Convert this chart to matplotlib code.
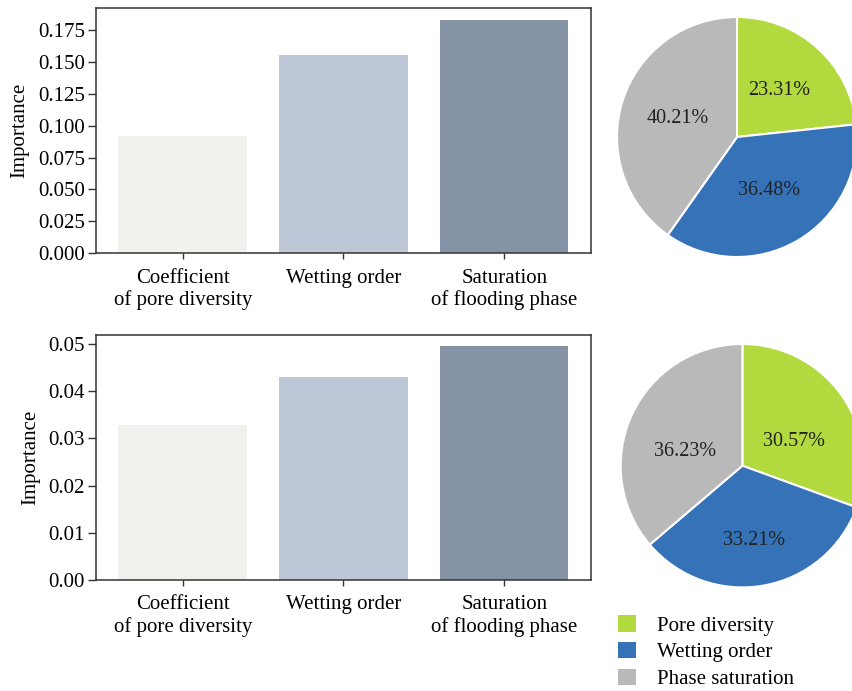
import matplotlib
matplotlib.use("Agg")
import matplotlib.pyplot as plt
from matplotlib.patches import Patch

plt.rcParams['font.family'] = ['Liberation Serif', 'DejaVu Serif']
plt.rcParams['font.size'] = 15

# feature importance
features = ["Coefficient\nof pore diversity", "Wetting order", "Saturation\nof flooding phase"]
imp_top = [0.0919, 0.1555, 0.1829]
imp_bottom = [0.0328, 0.0430, 0.0496]

# share of importance (%)
pie_names = ["Pore diversity", "Wetting order", "Phase saturation"]
share_top = [23.31, 36.48, 40.21]
share_bottom = [30.57, 33.21, 36.23]

bar_colors = ["#f0f1ec", "#bec7d7", "#8692a5"]
pie_colors = ["#b2d93e", "#3572b8", "#b9b9b9"]

W, H = 853, 691
fig = plt.figure(figsize=(W / 100, H / 100), dpi=100)


def px_axes(x0, y0, x1, y1):
    return fig.add_axes([x0 / W, 1 - y1 / H, (x1 - x0) / W, (y1 - y0) / H])


def bar_panel(ax, vals, ymax, yticks, fmt):
    x = range(len(vals))
    ax.bar(x, vals, width=0.8, color=bar_colors, zorder=2)
    ax.set_xlim(-0.54, 2.54)
    ax.set_ylim(0, ymax)
    ax.set_yticks(yticks)
    ax.set_yticklabels([fmt.format(t) for t in yticks])
    ax.set_xticks(list(x))
    ax.set_xticklabels(features, linespacing=1.2)
    ax.set_ylabel("Importance", labelpad=6)
    for s in ax.spines.values():
        s.set_color("#333333")
        s.set_linewidth(1.1)
    ax.tick_params(axis="y", length=6, width=1, color="#333333", pad=2)
    ax.tick_params(axis="x", length=4, width=1, color="#333333", pad=7)


ax1 = px_axes(96, 8.3, 591, 253.3)
bar_panel(ax1, imp_top, 0.192, [0.025 * i for i in range(8)], "{:.3f}")

ax2 = px_axes(96, 335, 591, 580)
bar_panel(ax2, imp_bottom, 0.0519, [0.01 * i for i in range(6)], "{:.2f}")


def pie_panel(cx, cy, r, vals, dy=0.0):
    ax = px_axes(cx - r, cy - r, cx + r, cy + r)
    _, _, pcts = ax.pie(vals, colors=pie_colors, startangle=90, counterclock=False,
                        autopct="%.2f%%", pctdistance=0.52,
                        wedgeprops=dict(edgecolor="white", linewidth=1.5),
                        textprops=dict(fontsize=14.5, color="#222222"))
    # nudge percentage labels
    for t in pcts:
        x, y = t.get_position()
        t.set_position((x, y + dy))
    ax.set_xlim(-1, 1)
    ax.set_ylim(-1, 1)
    ax.set_aspect("equal")
    ax.axis("off")


pie_panel(737, 137, 120, share_top)
pie_panel(742.4, 465.7, 121.7, share_bottom, dy=-0.1)

handles = [Patch(facecolor=c, edgecolor="none") for c in pie_colors]
fig.legend(handles, pie_names, loc="upper left", bbox_to_anchor=(618 / W, 1 - 615 / H),
           frameon=False, handlelength=0.85, handleheight=0.85, handletextpad=1.0,
           labelspacing=0.3, fontsize=15, borderaxespad=0, borderpad=0)

plt.savefig("out.png", dpi=100)
